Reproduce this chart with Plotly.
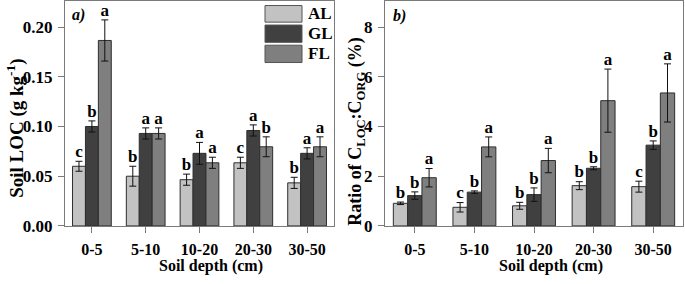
import plotly.graph_objects as go

depths = ["0-5", "5-10", "10-20", "20-30", "30-50"]
series = ["AL", "GL", "FL"]
colors = {"AL": "#c2c2c2", "GL": "#404040", "FL": "#7f7f7f"}

loc_vals = {
    "AL": [0.060, 0.050, 0.0465, 0.0635, 0.0433],
    "GL": [0.100, 0.093, 0.073, 0.096, 0.073],
    "FL": [0.1865, 0.093, 0.0635, 0.0796, 0.0796],
}
loc_err = {
    "AL": [0.005, 0.010, 0.0056, 0.0056, 0.0056],
    "GL": [0.0056, 0.0056, 0.011, 0.0056, 0.0056],
    "FL": [0.0207, 0.0056, 0.0056, 0.010, 0.010],
}
loc_letters = {
    "AL": ["c", "b", "b", "c", "b"],
    "GL": ["b", "a", "a", "a", "a"],
    "FL": ["a", "a", "a", "b", "a"],
}

ratio_vals = {
    "AL": [0.91, 0.75, 0.81, 1.62, 1.58],
    "GL": [1.22, 1.36, 1.26, 2.32, 3.25],
    "FL": [1.94, 3.18, 2.63, 5.04, 5.35],
}
ratio_err = {
    "AL": [0.05, 0.19, 0.14, 0.16, 0.22],
    "GL": [0.15, 0.05, 0.27, 0.06, 0.17],
    "FL": [0.37, 0.40, 0.49, 1.27, 1.17],
}
ratio_letters = {
    "AL": ["b", "c", "b", "b", "c"],
    "GL": ["b", "b", "b", "b", "b"],
    "FL": ["a", "a", "a", "a", "a"],
}

W, H = 685, 284
FONT = "Liberation Serif"
GAP = 0.28

fig = go.Figure()

panels = [
    ("x", "y", loc_vals, loc_err, loc_letters),
    ("x2", "y2", ratio_vals, ratio_err, ratio_letters),
]
for xa, ya, vals, errs, letters in panels:
    for s in series:
        fig.add_trace(go.Bar(
            x=depths, y=vals[s], name=s, xaxis=xa, yaxis=ya,
            marker=dict(color=colors[s], line=dict(color="#2e2e2e", width=1)),
            error_y=dict(type="data", array=errs[s], color="#111111",
                         thickness=1, width=3.5),
            showlegend=False, offsetgroup=s, hoverinfo="skip",
        ))
    for s in series:
        tops = [v + e for v, e in zip(vals[s], errs[s])]
        fig.add_trace(go.Scatter(
            x=depths, y=tops, mode="text", text=letters[s],
            textposition="top center", xaxis=xa, yaxis=ya,
            textfont=dict(family=FONT, size=17, color="black", weight="bold"),
            showlegend=False, offsetgroup=s, hoverinfo="skip",
        ))

def px(xp):
    return xp / W

def py(yp):
    return 1 - yp / H

axis_common = dict(
    showline=True, linecolor="#7a7a7a", linewidth=1.2, mirror=True,
    ticks="outside", ticklen=6, tickcolor="#7a7a7a", showgrid=False,
    zeroline=False,
)
xtick_font = dict(family=FONT, size=16, color="black", weight="bold")
ytick_font = dict(family=FONT, size=17, color="black", weight="bold")

fig.update_layout(
    width=W, height=H, autosize=False,
    margin=dict(l=0, r=0, t=0, b=0),
    paper_bgcolor="white", plot_bgcolor="white",
    barmode="group", bargap=GAP, scattermode="group", scattergap=GAP,
    font=dict(family=FONT, color="black"),
    xaxis=dict(domain=[px(65), px(334)], anchor="y", ticklabelstandoff=3,
               tickfont=xtick_font, **axis_common),
    yaxis=dict(domain=[py(234), py(0.5)], anchor="x", range=[0, 0.2257],
               tickvals=[0, 0.05, 0.10, 0.15, 0.20],
               ticktext=["0.00", "0.05", "0.10", "0.15", "0.20"],
               ticklabelstandoff=2, tickfont=ytick_font, **axis_common),
    xaxis2=dict(domain=[px(385), px(683)], anchor="y2", ticklabelstandoff=3,
                tickfont=xtick_font, **axis_common),
    yaxis2=dict(domain=[py(234), py(0.5)], anchor="x2", range=[0, 9.03],
                tickvals=[0, 2, 4, 6, 8], ticklabelstandoff=2,
                tickfont=ytick_font, **axis_common),
)

ann = []
ann.append(dict(text="Soil LOC (g kg<sup>-1</sup>)", x=px(16), y=py(133),
                xref="paper", yref="paper", textangle=-90, showarrow=False,
                font=dict(family=FONT, size=19, color="black", weight="bold"),
                xanchor="center", yanchor="middle"))
ann.append(dict(text="Ratio of C<sub>LOC</sub>:C<sub>ORG</sub> (%)", x=px(357), y=py(136),
                xref="paper", yref="paper", textangle=-90, showarrow=False,
                font=dict(family=FONT, size=18, color="black", weight="bold"),
                xanchor="center", yanchor="middle"))
xt = dict(family=FONT, size=16, color="black", weight="bold")
ann.append(dict(text="Soil depth (cm)", x=px(211), y=py(275.5), borderpad=0,
                xref="paper", yref="paper", showarrow=False, font=xt,
                xanchor="center", yanchor="middle"))
ann.append(dict(text="Soil depth (cm)", x=px(551), y=py(275.5), borderpad=0,
                xref="paper", yref="paper", showarrow=False, font=xt,
                xanchor="center", yanchor="middle"))
ital = dict(family=FONT, size=16, color="black", weight="bold", style="italic")
ann.append(dict(text="a)", x=px(70), y=py(15), xref="paper", yref="paper",
                showarrow=False, font=ital, xanchor="left", yanchor="middle"))
ann.append(dict(text="b)", x=px(391), y=py(16), xref="paper", yref="paper",
                showarrow=False, font=ital, xanchor="left", yanchor="middle"))

# legend swatches
shapes = []
leg_rows = [(4.7, 22), (25, 43), (46, 64)]
for s, (y0, y1) in zip(series, leg_rows):
    shapes.append(dict(type="rect", xref="paper", yref="paper",
                       x0=px(265), x1=px(302), y0=py(y1), y1=py(y0),
                       fillcolor=colors[s], line=dict(color="#555555", width=1)))
    ann.append(dict(text=s, x=px(306), y=py((y0 + y1) / 2), xref="paper",
                    yref="paper", showarrow=False, xanchor="left",
                    yanchor="middle",
                    font=dict(family=FONT, size=17, color="black", weight="bold")))

fig.update_layout(annotations=ann, shapes=shapes)
post = (
    "var st=document.createElement('style');"
    "st.textContent='html,body{margin:0!important;padding:0!important;overflow:hidden!important;}';"
    "document.head.appendChild(st);"
)
fig.write_html("out.html", config={"displayModeBar": False, "responsive": False},
               post_script=post)
